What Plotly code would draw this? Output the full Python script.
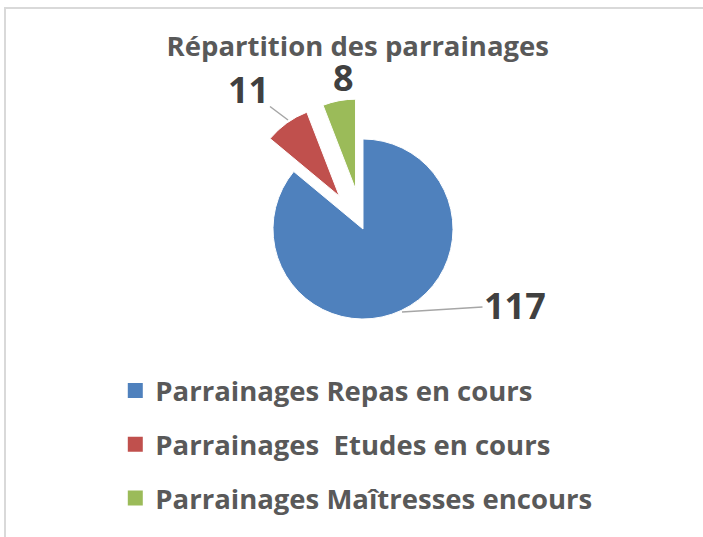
import plotly.graph_objects as go

labels = ["Parrainages Repas en cours", "Parrainages  Etudes en cours", "Parrainages Maîtresses encours"]
values = [117, 11, 8]
colors = ["#4F81BD", "#C0504D", "#9BBB59"]
pulls = [0, 0.45, 0.45]
title_text = "Répartition des parrainages"

FONT = "Open Sans"
W, H = 703, 537

fig = go.Figure()
fig.add_trace(go.Pie(
    labels=labels, values=values, sort=False, direction="clockwise", rotation=0,
    pull=pulls,
    marker=dict(colors=colors, line=dict(color="white", width=1)),
    textinfo="none",
    showlegend=False, hoverinfo="label+value",
    domain=dict(x=[0.3307, 0.7020], y=[0.3305, 0.8166]),
))

for lab, col in zip(labels, colors):
    fig.add_trace(go.Scatter(
        x=[None], y=[None], mode="markers", name=lab, legendgroup=lab,
        marker=dict(symbol="square", size=15, color=col),
        showlegend=True,
    ))

# data labels (value text from `values`), placed like the reference's best-fit labels
label_spots = [
    # (tip_x, tip_y, text_dx, text_dy, arrow) in pixels
    (402, 312, 113, -7, True),
    (288, 120, -40, -30, True),
    (343, 77, 0, 0, False),
]
annotations = []
for v, (tx, ty, dx, dy, arrow) in zip(values, label_spots):
    annotations.append(dict(
        text=str(v), xref="paper", yref="paper", x=tx / W, y=1 - ty / H,
        ax=dx, ay=dy, showarrow=arrow, arrowhead=0, arrowwidth=1.5, arrowcolor="#A6A6A6",
        standoff=0, xanchor="center", yanchor="middle",
        font=dict(family=FONT, size=36, color="#404040", weight="bold"),
    ))

fig.update_layout(
    width=W, height=H,
    margin=dict(l=0, r=0, t=0, b=0, autoexpand=False),
    paper_bgcolor="white", plot_bgcolor="white",
    title=dict(text=title_text, x=0.509, xanchor="center", y=1 - 46 / H, yanchor="middle",
               font=dict(family=FONT, size=27.5, color="#595959", weight="bold")),
    xaxis=dict(visible=False), yaxis=dict(visible=False),
    legend=dict(x=0.164, xanchor="left", y=1 - 366 / H, yanchor="top",
                font=dict(family=FONT, size=27.5, color="#595959", weight="bold"),
                tracegroupgap=15, traceorder="grouped", bgcolor="rgba(0,0,0,0)"),
    annotations=annotations,
    shapes=[
        dict(type="line", xref="paper", yref="paper", x0=4 / W, x1=1, y0=1 - 8 / H, y1=1 - 8 / H,
             line=dict(color="#D9D9D9", width=2)),
        dict(type="line", xref="paper", yref="paper", x0=5 / W, x1=5 / W, y0=0, y1=1 - 8 / H,
             line=dict(color="#D9D9D9", width=2)),
    ],
)

fig.write_html("out.html", config={"displayModeBar": False},
               post_script="document.body.style.margin='0px';")
